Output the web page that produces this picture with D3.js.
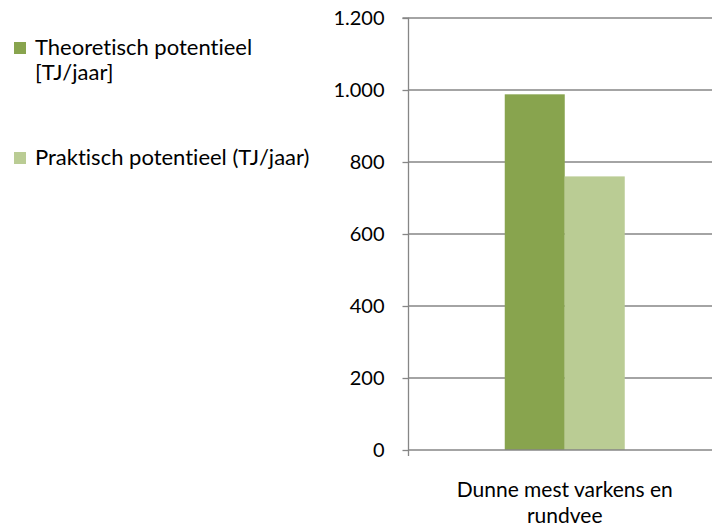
<!DOCTYPE html>
<html>
<head>
<meta charset="utf-8">
<script src="https://cdn.jsdelivr.net/npm/d3@7"></script>
<style>
  html, body { margin: 0; padding: 0; background: #fff; }
  svg { display: block; font-family: Lato, "Open Sans", sans-serif; font-variant-ligatures: none; font-feature-settings: "liga" 0, "clig" 0; }
</style>
</head>
<body>
<svg id="chart" width="712" height="529"></svg>
<script>
// Biogas potential for liquid manure (pigs and cattle)
const categories = ["Dunne mest varkens en rundvee"];
const categoryLines = [["Dunne mest varkens en", "rundvee"]];
const seriesNames = ["Theoretisch potentieel [TJ/jaar]", "Praktisch potentieel (TJ/jaar)"];
const legendLines = [["Theoretisch potentieel", "[TJ/jaar]"], ["Praktisch potentieel (TJ/jaar)"]];
const theoretisch = [988];
const praktisch = [760];
const yTicks = [0, 200, 400, 600, 800, 1000, 1200];
const yTickLabels = ["0", "200", "400", "600", "800", "1.000", "1.200"];
const colors = ["#88a44e", "#bacc94"];

const svg = d3.select("#chart");
const plot = { left: 408.5, right: 721, top: 18, bottom: 450 };

const x0 = d3.scaleBand().domain(categories).range([plot.left, plot.right]).paddingInner(0).paddingOuter(0);
const y = d3.scaleLinear().domain([0, 1200]).range([plot.bottom, plot.top]);
const groupWidth = 120;
const x1 = d3.scaleBand().domain(seriesNames).range([0, groupWidth]);

// Horizontal gridlines
svg.append("g")
  .selectAll("line")
  .data(yTicks.filter(d => d > 0))
  .join("line")
  .attr("x1", plot.left).attr("x2", plot.right)
  .attr("y1", d => y(d)).attr("y2", d => y(d))
  .attr("stroke", "#868686").attr("stroke-width", 1.3);

// Bars
const seriesValues = [theoretisch, praktisch];
categories.forEach((cat, ci) => {
  const gx = x0(cat) + x0.bandwidth() / 2 - groupWidth / 2;
  seriesNames.forEach((s, si) => {
    svg.append("rect")
      .attr("x", gx + x1(s))
      .attr("y", y(seriesValues[si][ci]))
      .attr("width", x1.bandwidth())
      .attr("height", y(0) - y(seriesValues[si][ci]))
      .attr("fill", colors[si]);
  });
});

// Y axis
const yAxis = d3.axisLeft(y)
  .tickValues(yTicks)
  .tickFormat((d, i) => yTickLabels[i])
  .tickSize(6)
  .tickPadding(18);
const gy = svg.append("g").attr("transform", `translate(${plot.left},0)`).call(yAxis);
gy.select(".domain").attr("stroke", "#868686").attr("stroke-width", 1.3).attr("d", `M-6,${plot.top}H0V${plot.bottom + 6}`);
gy.selectAll(".tick line").attr("stroke", "#868686").attr("stroke-width", 1.3);
gy.selectAll(".tick text").attr("font-size", 20).attr("fill", "#000").attr("font-family", "Lato, sans-serif");

// X axis baseline
svg.append("line")
  .attr("x1", plot.left).attr("x2", plot.right)
  .attr("y1", plot.bottom).attr("y2", plot.bottom)
  .attr("stroke", "#868686").attr("stroke-width", 1.3);

// Category labels, one text element per line
categories.forEach((cat, ci) => {
  const cx = x0(cat) + x0.bandwidth() / 2;
  categoryLines[ci].forEach((line, li) => {
    svg.append("text")
      .attr("text-anchor", "middle")
      .attr("font-size", 21)
      .attr("fill", "#000")
      .attr("x", cx)
      .attr("y", 497 + li * 26)
      .text(line);
  });
});

// Legend
const legendY = [42, 152];
seriesNames.forEach((s, i) => {
  svg.append("rect").attr("x", 14).attr("y", legendY[i]).attr("width", 12).attr("height", 12).attr("fill", colors[i]);
  legendLines[i].forEach((line, li) => {
    svg.append("text")
      .attr("font-size", 22)
      .attr("fill", "#000")
      .attr("x", 35)
      .attr("y", legendY[i] + 13 + li * 25)
      .text(line);
  });
});
</script>
</body>
</html>
